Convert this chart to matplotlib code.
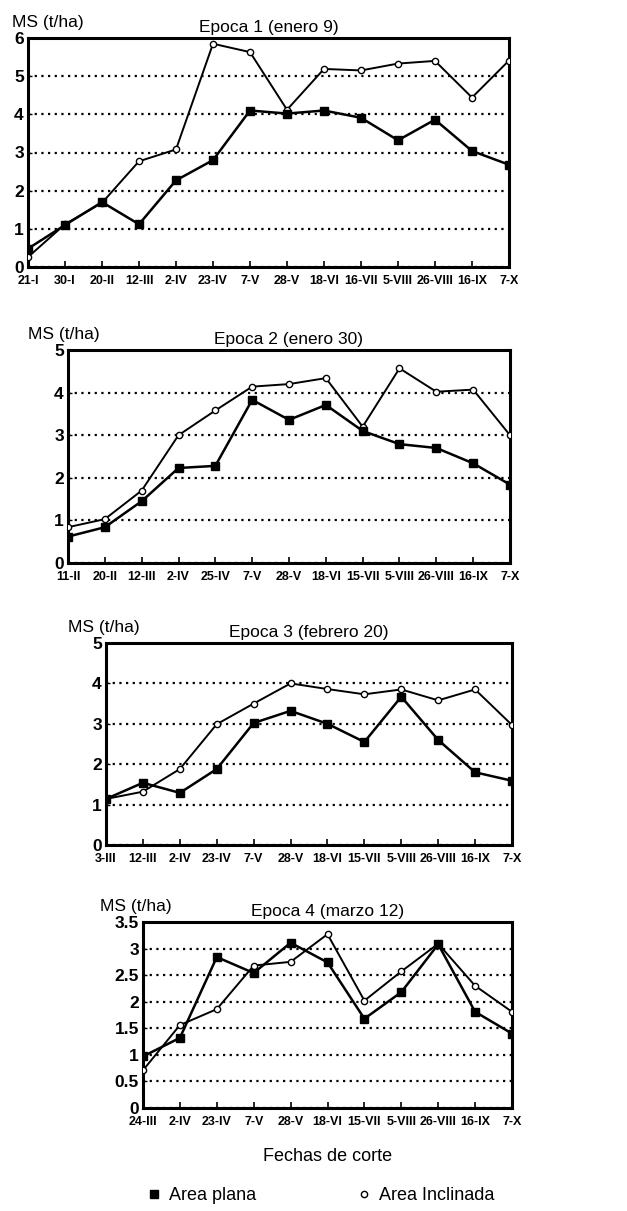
import matplotlib
matplotlib.use('Agg')
import matplotlib.pyplot as plt
from matplotlib.lines import Line2D

plt.rcParams['font.family'] = ['Liberation Sans', 'DejaVu Sans']

# Epoca 1 (enero 9)
fechas1 = ['21-I', '30-I', '20-II', '12-III', '2-IV', '23-IV', '7-V', '28-V',
           '18-VI', '16-VII', '5-VIII', '26-VIII', '16-IX', '7-X']
plana1 = [0.48, 1.1, 1.7, 1.12, 2.27, 2.8, 4.1, 4.02, 4.1, 3.91, 3.32, 3.86, 3.04, 2.68]
incl1 = [0.26, 1.12, 1.68, 2.77, 3.08, 5.85, 5.63, 4.12, 5.19, 5.15, 5.33, 5.4, 4.44, 5.41]

# Epoca 2 (enero 30)
fechas2 = ['11-II', '20-II', '12-III', '2-IV', '25-IV', '7-V', '28-V', '18-VI',
           '15-VII', '5-VIII', '26-VIII', '16-IX', '7-X']
plana2 = [0.62, 0.84, 1.45, 2.23, 2.28, 3.83, 3.36, 3.71, 3.1, 2.79, 2.7, 2.34, 1.84]
incl2 = [0.84, 1.03, 1.7, 3.0, 3.58, 4.14, 4.2, 4.34, 3.2, 4.57, 4.02, 4.07, 3.0]

# Epoca 3 (febrero 20)
fechas3 = ['3-III', '12-III', '2-IV', '23-IV', '7-V', '28-V', '18-VI', '15-VII',
           '5-VIII', '26-VIII', '16-IX', '7-X']
plana3 = [1.14, 1.54, 1.29, 1.88, 3.02, 3.32, 3.0, 2.55, 3.67, 2.6, 1.8, 1.59]
incl3 = [1.14, 1.32, 1.88, 2.99, 3.5, 4.0, 3.86, 3.73, 3.85, 3.58, 3.85, 2.97]

# Epoca 4 (marzo 12)
fechas4 = ['24-III', '2-IV', '23-IV', '7-V', '28-V', '18-VI', '15-VII', '5-VIII',
           '26-VIII', '16-IX', '7-X']
plana4 = [0.97, 1.32, 2.84, 2.54, 3.11, 2.74, 1.68, 2.18, 3.08, 1.81, 1.4]
incl4 = [0.71, 1.56, 1.86, 2.68, 2.75, 3.27, 2.02, 2.57, 3.09, 2.3, 1.81]

titulos = ['Epoca 1 (enero 9)', 'Epoca 2 (enero 30)',
           'Epoca 3 (febrero 20)', 'Epoca 4 (marzo 12)']

W, H = 627, 1211
# pixel boxes: left, right, top, bottom
cajas = [(28, 509, 38, 267), (68, 510, 350, 563),
         (106, 512, 643, 845), (143, 512, 922, 1108)]
ms_x = [12, 28, 68, 100]
ylims = [(0, 6), (0, 5), (0, 5), (0, 3.5)]
yticks = [range(0, 7), range(0, 6), range(0, 6),
          [0, 0.5, 1, 1.5, 2, 2.5, 3, 3.5]]
yticklabels = [None, None, None, ['0', '0.5', '1', '1.5', '2', '2.5', '3', '3.5']]

fig = plt.figure(figsize=(W / 100, H / 100), dpi=100)

datos = [(fechas1, plana1, incl1), (fechas2, plana2, incl2),
         (fechas3, plana3, incl3), (fechas4, plana4, incl4)]

for i, (fechas, plana, incl) in enumerate(datos):
    l, r, t, b = cajas[i]
    ax = fig.add_axes([l / W, 1 - b / H, (r - l) / W, (b - t) / H])
    x = list(range(len(fechas)))
    ax.plot(x, incl, color='black', lw=1.4, marker='o', ms=4.5,
            mfc='white', mec='black', mew=1.0, zorder=3)
    ax.plot(x, plana, color='black', lw=1.8, marker='s', ms=6,
            mfc='black', mec='black', zorder=4)
    ax.set_xlim(0, len(fechas) - 1)
    ax.set_ylim(*ylims[i])
    ax.set_yticks(list(yticks[i]))
    if yticklabels[i]:
        ax.set_yticklabels(yticklabels[i])
    ax.set_xticks(x)
    ax.set_xticklabels(fechas, fontsize=9, fontweight='bold')
    for lab in ax.get_yticklabels():
        lab.set_fontsize(12.5)
        lab.set_fontweight('bold')
    ax.tick_params(axis='x', direction='in', length=4, width=1.2, pad=6)
    ax.tick_params(axis='y', direction='in', length=3, width=1, pad=3)
    ax.yaxis.grid(True, linestyle=(0, (1, 2)), color='black', lw=1.6)
    ax.set_axisbelow(True)
    for sp in ax.spines.values():
        sp.set_linewidth(2.2)
    ax.set_title(titulos[i], fontsize=12.5, pad=4)
    fig.text(ms_x[i] / W, 1 - (t - 8) / H, 'MS (t/ha)', fontsize=12.5,
             va='bottom', ha='left')
    if i == 3:
        ax.set_xlabel('Fechas de corte', fontsize=13, labelpad=14)

handles = [Line2D([], [], ls='none', marker='s', ms=5.5, color='black'),
           Line2D([], [], ls='none', marker='o', ms=4.5, mfc='white', mec='black')]
fig.legend(handles, ['Area plana', 'Area Inclinada'], loc='lower center',
           bbox_to_anchor=(0.51, -0.008), ncol=2, frameon=False, fontsize=13,
           columnspacing=5.5, handletextpad=0.3, handlelength=1.0)

fig.savefig('out.png', dpi=100)
